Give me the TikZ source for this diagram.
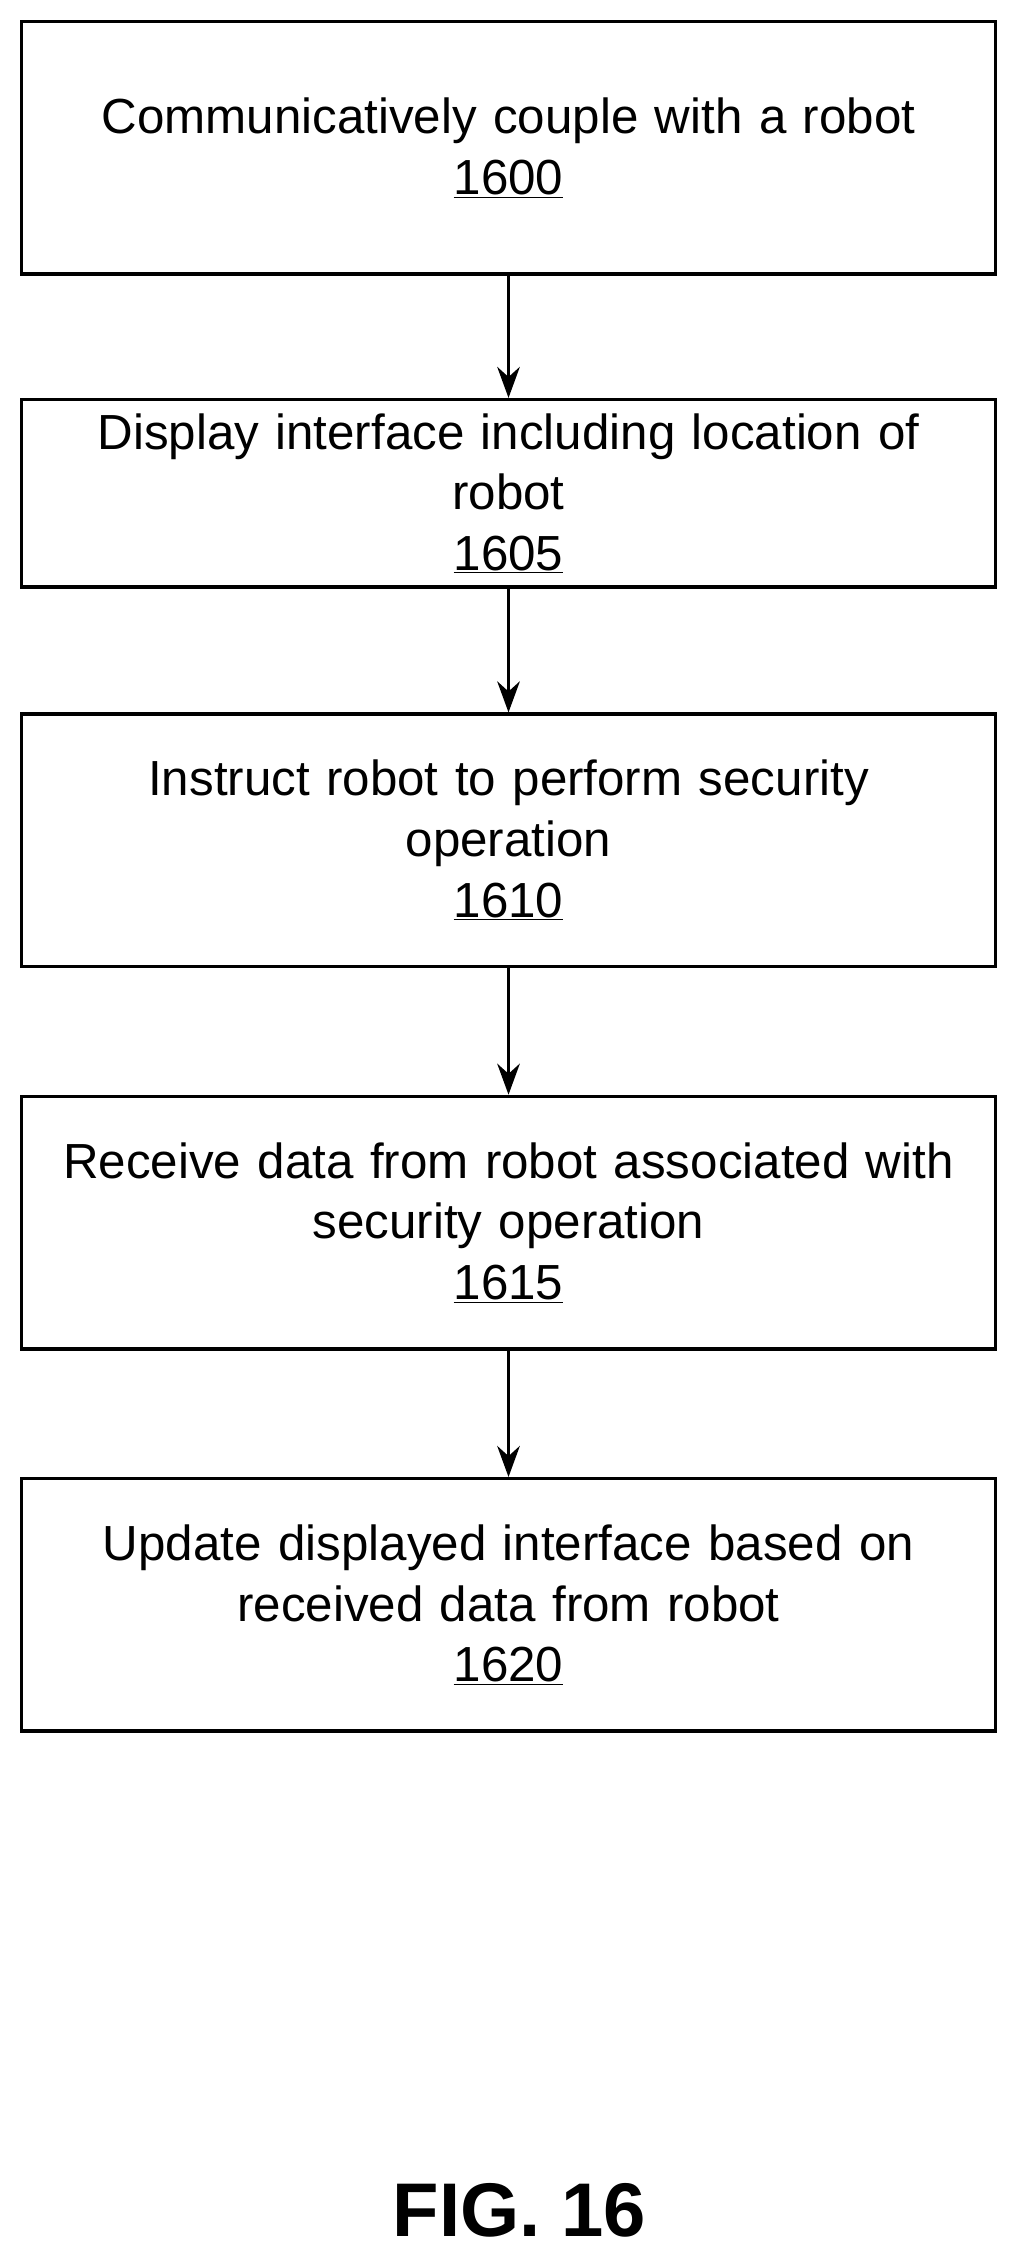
\documentclass[tikz,border=0pt]{standalone}
\usepackage{fontspec}
\setmainfont{Liberation Sans}
\usetikzlibrary{positioning,arrows.meta}

\begin{document}
\begin{tikzpicture}[x=0.036cm,y=-0.036cm]
    \tikzstyle{block} = [rectangle,minimum width=675*0.036cm,text width=660*0.036cm,align=center,draw=black,line width=2.4pt,fill=white,font=\fontsize{35}{43}\selectfont]
    \tikzstyle{arrow} = [-{Stealth[length=22pt,width=16pt]},line width=2.4pt]

    \useasboundingbox (0,0) rectangle (708,1568);

    \node (couple) [block,minimum height=175*0.036cm] at (352.5,102.5) {Communicatively couple with a robot\\\underline{1600}};

    \node (display) [block,minimum height=130*0.036cm] at (352.5,342) {Display interface including location of\\robot\\\underline{1605}};
    \draw [arrow] (couple) -- (display);

    \node (instruct) [block,minimum height=175*0.036cm] at (352.5,582.5) {Instruct robot to perform security\\operation\\\underline{1610}};
    \draw [arrow] (display) -- (instruct);

    \node (receive) [block,minimum height=175*0.036cm] at (352.5,847.5) {Receive data from robot associated with\\security operation\\\underline{1615}};
    \draw [arrow] (instruct) -- (receive);

    \node (update) [block,minimum height=175*0.036cm] at (352.5,1112.5) {Update displayed interface based on\\received data from robot\\\underline{1620}};
    \draw [arrow] (receive) -- (update);

    \node (fig) at (360,1532) {\fontsize{54}{60}\selectfont\bfseries FIG. 16};

\end{tikzpicture}
\end{document}
